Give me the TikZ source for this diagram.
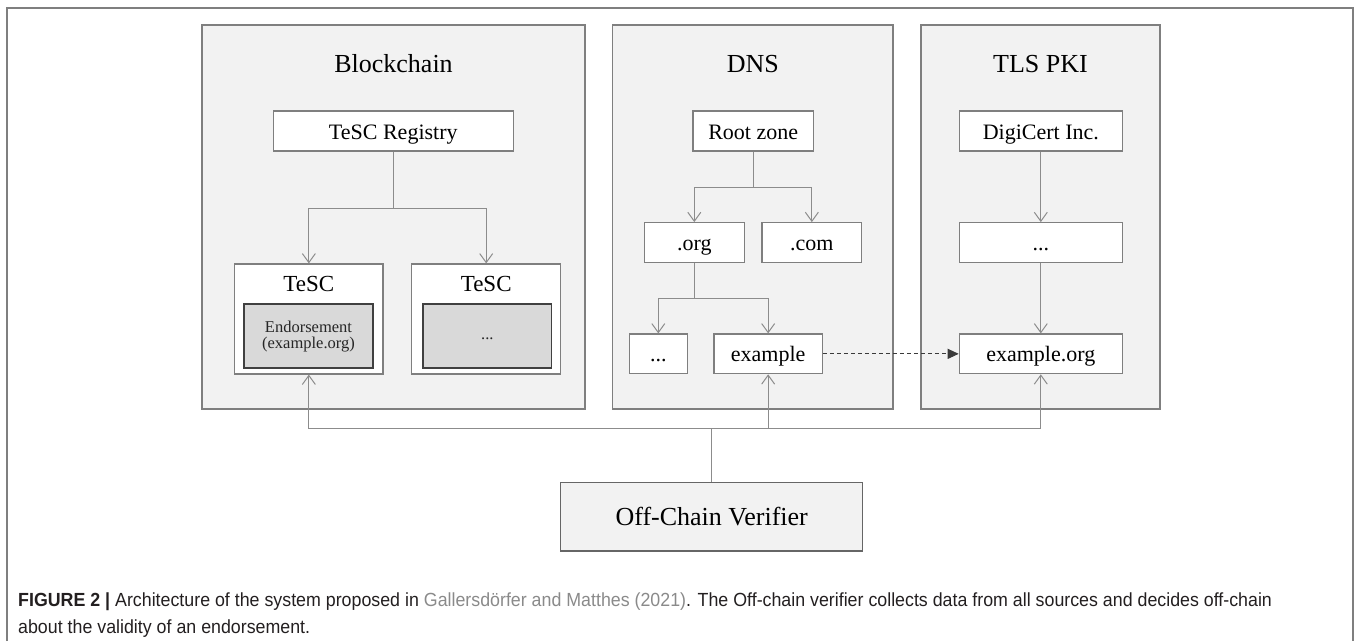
\documentclass[tikz,border=0pt]{standalone}
\usepackage{fontspec}
\setmainfont{Liberation Serif}
\newfontfamily\capfont[FakeStretch=0.937]{Liberation Sans}
\usetikzlibrary{arrows.meta}

\definecolor{panelfill}{HTML}{F2F2F2}
\definecolor{panelline}{HTML}{7F7F7F}
\definecolor{connline}{HTML}{8C8C8C}
\definecolor{innerfill}{HTML}{D9D9D9}
\definecolor{innerline}{HTML}{404040}
\definecolor{captext}{HTML}{231F20}
\definecolor{caplink}{HTML}{8A8A8A}

\tikzset{
  panel/.style={draw=panelline, fill=panelfill, line width=1.2pt, inner sep=0pt},
  wbox/.style={draw=panelline, fill=white, line width=1.2pt, inner sep=0pt,
    text height=16pt, text depth=0pt, font=\fontsize{22}{26}\selectfont},
  ibox/.style={draw=innerline, fill=innerfill, line width=1.2pt, inner sep=0pt},
  itext/.style={anchor=base, inner sep=0pt, text=black!85,
    font=\fontsize{16.5}{19}\selectfont},
  ptitle/.style={anchor=base, font=\fontsize{26}{30}\selectfont, inner sep=0pt},
  ttitle/.style={anchor=base, font=\fontsize{23}{26}\selectfont, inner sep=0pt},
  conn/.style={draw=connline, line width=1pt,
    -{Straight Barb[length=9pt, width=13pt, line width=1pt]}},
  plain/.style={draw=connline, line width=1pt},
  dashconn/.style={draw=innerline!90!black, line width=1pt, dash pattern=on 4pt off 3pt,
    -{Triangle[length=11pt, width=10pt]}},
  verif/.style={draw=innerline!80, fill=panelfill, line width=1.2pt, inner sep=0pt,
    text height=18pt, text depth=0pt, font=\fontsize{26}{30}\selectfont},
  capline/.style={anchor=base west, inner sep=0pt, text=captext,
    font=\capfont\fontsize{19}{23}\selectfont}
}

\begin{document}
\begin{tikzpicture}[x=1pt, y=-1pt]
  \useasboundingbox (0,0) rectangle (1354,641);

  % frame round the figure and its caption
  \draw[panelline, line width=1.2pt] (7,641) -- (7,8) -- (1353,8) -- (1353,641);

  % three source panels
  \node[panel, minimum width=383pt, minimum height=384pt] (bcpanel) at (393.5,217) {};
  \node[panel, minimum width=280.3pt, minimum height=384pt] (dnspanel) at (752.85,217) {};
  \node[panel, minimum width=239pt, minimum height=384pt] (tlspanel) at (1040.5,217) {};

  \node[ptitle] (bctitle) at (393.5,72.7) {Blockchain};
  \node[ptitle] (dnstitle) at (752.85,72.7) {DNS};
  \node[ptitle] (tlstitle) at (1040.5,72.7) {TLS PKI};

  % blockchain side
  \node[wbox, minimum width=240pt, minimum height=40pt] (reg) at (393.3,131) {TeSC Registry};
  \node[wbox, minimum width=148.3pt, minimum height=110pt] (tesc1) at (308.85,319) {};
  \node[wbox, minimum width=149pt, minimum height=110pt] (tesc2) at (486.2,319) {};
  \node[ttitle] (tesc1t) at (308.85,291.7) {TeSC};
  \node[ttitle] (tesc2t) at (486.2,291.7) {TeSC};
  \node[ibox, minimum width=129pt, minimum height=64pt] (end1) at (308.5,336) {};
  \node[ibox, minimum width=128.7pt, minimum height=64pt] (end2) at (487.35,336) {};
  \node[itext] (end1a) at (308.5,332.5) {Endorsement};
  \node[itext] (end1b) at (308.5,348) {(example.org)};
  \node[itext] (end2a) at (487.35,339.5) {...};

  % DNS hierarchy
  \node[wbox, minimum width=120.3pt, minimum height=40pt] (root) at (753.2,131) {Root zone};
  \node[wbox, minimum width=100pt, minimum height=40pt] (org) at (694.3,242.7) {.org};
  \node[wbox, minimum width=99.7pt, minimum height=40pt] (com) at (811.85,242.7) {.com};
  \node[wbox, minimum width=58pt, minimum height=39.7pt] (odots) at (658.3,353.85) {...};
  \node[wbox, minimum width=108.3pt, minimum height=39.7pt] (example) at (768.15,353.85) {example};

  % TLS certificate chain
  \node[wbox, minimum width=163pt, minimum height=40pt] (digi) at (1040.8,131) {DigiCert Inc.};
  \node[wbox, minimum width=163pt, minimum height=40pt] (tdots) at (1040.8,242.7) {...};
  \node[wbox, minimum width=163pt, minimum height=39.7pt] (exorg) at (1040.8,353.85) {example.org};

  % verifier
  \node[verif, minimum width=302pt, minimum height=68.3pt] (verifier) at (711.7,516.85) {Off-Chain Verifier};

  % junction points
  \coordinate (rj) at (393.3,208);
  \coordinate (dj1) at (753.2,187);
  \coordinate (dj2) at (694.3,298.3);
  \coordinate (vj) at (711.7,428.3);

  % registry to contracts
  \draw[plain] (reg.south) -- (rj);
  \draw[conn] (rj) -| (tesc1.north);
  \draw[conn] (rj) -| (tesc2.north);

  % DNS delegation
  \draw[plain] (root.south) -- (dj1);
  \draw[conn] (dj1) -| (org.north);
  \draw[conn] (dj1) -| (com.north);
  \draw[plain] (org.south) -- (dj2);
  \draw[conn] (dj2) -| (odots.north);
  \draw[conn] (dj2) -| (example.north);

  % certificate chain
  \draw[conn] (digi.south) -- (tdots.north);
  \draw[conn] (tdots.south) -- (exorg.north);

  % domain binds the certificate
  \draw[dashconn] (example.east) -- (exorg.west);

  % verifier queries every source
  \draw[plain] (verifier.north) -- (vj);
  \draw[conn] (vj) -| (tesc1.south);
  \draw[conn] (vj) -| (example.south);
  \draw[conn] (vj) -| (exorg.south);

  % caption
  \node[capline] (cap1) at (18,606) {\textbf{FIGURE 2 |} Architecture of the system proposed in \textcolor{caplink}{Gallersdörfer and Matthes (2021)}. The Off-chain verifier collects data from all sources and decides off-chain};
  \node[capline] (cap2) at (18,633) {about the validity of an endorsement.};
\end{tikzpicture}
\end{document}
